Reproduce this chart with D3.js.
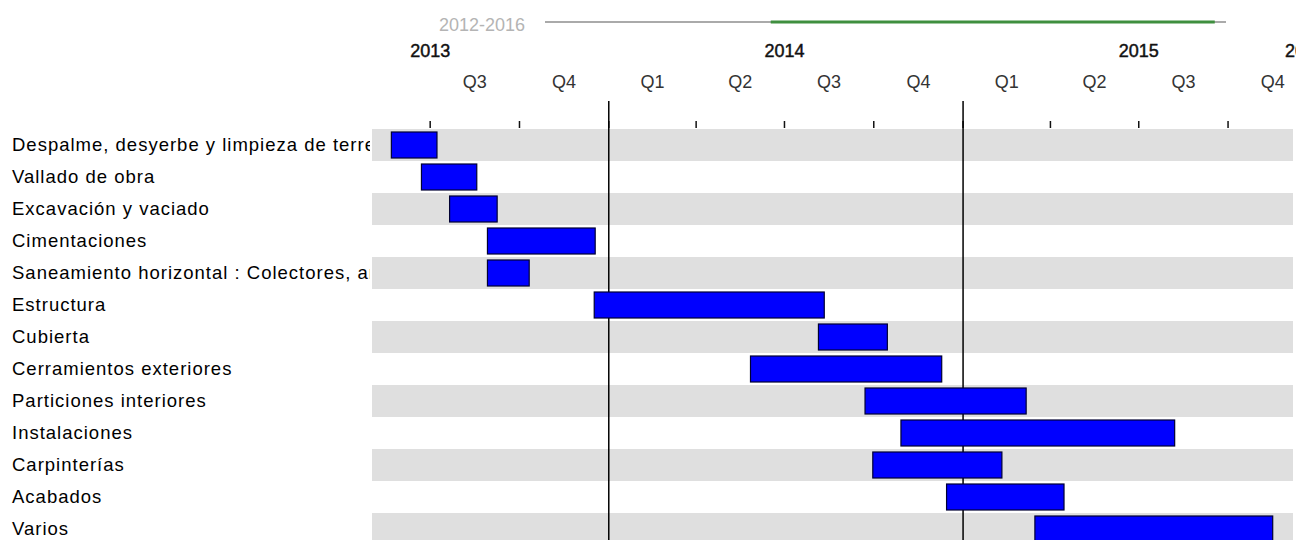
<!DOCTYPE html>
<html>
<head>
  <meta charset="utf-8"/>
  <title>Gantt</title>
  <script src="https://cdn.jsdelivr.net/npm/d3@7"></script>
<style>
body { margin: 0; background: #fff; }
svg text { font-family: "Liberation Sans", Arial, sans-serif; }
.label { font-size: 18.5px; letter-spacing: 1px; fill: #000; }
.year { font-size: 18px; fill: #111; stroke: #111; stroke-width: 0.45px; }
.quarter { font-size: 18px; fill: #333; }
.range { font-size: 18px; fill: #b4b4b4; }
.bar { fill: #0000ff; stroke: #000033; stroke-width: 1.2; }
</style>
</head>
<body>
  <svg id="chart"></svg>

  <script>
    // tasks and their start / end dates
    var tasks = [
      "Despalme, desyerbe y limpieza de terreno",
      "Vallado de obra",
      "Excavación y vaciado",
      "Cimentaciones",
      "Saneamiento horizontal : Colectores, arquetas",
      "Estructura",
      "Cubierta",
      "Cerramientos exteriores",
      "Particiones interiores",
      "Instalaciones",
      "Carpinterías",
      "Acabados",
      "Varios"
    ];
    var starts = [
      "2013-05-22", "2013-06-22", "2013-07-21", "2013-08-29", "2013-08-29",
      "2013-12-17", "2014-08-05", "2014-05-27", "2014-09-22", "2014-10-29",
      "2014-09-30", "2014-12-15", "2015-03-16"
    ];
    var ends = [
      "2013-07-08", "2013-08-18", "2013-09-08", "2013-12-18", "2013-10-11",
      "2014-08-11", "2014-10-15", "2014-12-10", "2015-03-07", "2015-08-07",
      "2015-02-10", "2015-04-15", "2015-11-16"
    ];
    var years = ["2013", "2014", "2015", "2016"];
    var quarterNames = ["Q1", "Q2", "Q3", "Q4"];
    var rangeLabel = "2012-2016";
    var overviewDomain = ["2012-01-01", "2016-01-01"];
    var viewDomain = ["2013-04-30", "2015-12-10"];

    var width = 1296, height = 540,
        labelWidth = 370, rowTop = 129, rowHeight = 32;

    var parse = d3.utcParse("%Y-%m-%d");

    var x = d3.scaleUtc()
        .domain(viewDomain.map(parse))
        .range([labelWidth, width]);

    var xo = d3.scaleUtc()
        .domain(overviewDomain.map(parse))
        .range([545, 1225]);

    var y = d3.scaleBand()
        .domain(tasks)
        .range([rowTop, rowTop + rowHeight * tasks.length]);

    var svg = d3.select("#chart")
        .attr("width", width)
        .attr("height", height);

    svg.append("clipPath").attr("id", "labelclip")
      .append("rect").attr("x", 0).attr("y", 0).attr("width", labelWidth).attr("height", height);
    svg.append("clipPath").attr("id", "plotclip")
      .append("rect").attr("x", labelWidth).attr("y", 0).attr("width", width - labelWidth).attr("height", height);

    // overview strip
    svg.append("text").attr("class", "range")
        .attr("x", 525).attr("y", 31).attr("text-anchor", "end")
        .text(rangeLabel);
    svg.append("line")
        .attr("x1", xo.range()[0]).attr("x2", xo.range()[1] + 1)
        .attr("y1", 22).attr("y2", 22)
        .attr("stroke", "#aaaaaa").attr("stroke-width", 2);
    svg.append("line")
        .attr("x1", xo(x.domain()[0])).attr("x2", xo(x.domain()[1]))
        .attr("y1", 22).attr("y2", 22)
        .attr("stroke", "#3f8f3f").attr("stroke-width", 3);

    // striped rows
    svg.append("g").selectAll("rect")
        .data(tasks.filter(function(d, i) { return i % 2 === 0; }))
        .enter().append("rect")
        .attr("x", labelWidth + 2)
        .attr("y", function(d) { return y(d); })
        .attr("width", width - 3 - labelWidth - 2)
        .attr("height", y.bandwidth())
        .attr("fill", "#dfdfdf");

    var plot = svg.append("g").attr("clip-path", "url(#plotclip)");

    // year labels at mid-year (the last one sticks to the right edge)
    var yearStarts = years.map(function(d) { return d3.utcParse("%Y")(d); });
    plot.selectAll(".year")
        .data(years)
        .enter().append("text")
        .attr("class", "year")
        .attr("x", function(d, i) {
          var mid = x(d3.utcMonth.offset(yearStarts[i], 6));
          return mid > width ? width - 11 : mid;
        })
        .attr("text-anchor", function(d, i) {
          return x(d3.utcMonth.offset(yearStarts[i], 6)) > width ? "start" : "middle";
        })
        .attr("y", 57)
        .text(function(d) { return d; });

    // quarter labels at mid-quarter
    var qStarts = d3.utcMonth.every(3).range(x.domain()[0], x.domain()[1]);
    plot.selectAll(".quarter")
        .data(qStarts)
        .enter().append("text")
        .attr("class", "quarter")
        .attr("x", function(d) { return x(new Date((+d + +d3.utcMonth.offset(d, 3)) / 2)); })
        .attr("y", 88)
        .attr("text-anchor", "middle")
        .text(function(d) { return quarterNames[Math.floor(d.getUTCMonth() / 3)]; });

    // small quarter ticks
    plot.selectAll(".qtick")
        .data(qStarts)
        .enter().append("line")
        .attr("x1", function(d) { return x(d); })
        .attr("x2", function(d) { return x(d); })
        .attr("y1", 121).attr("y2", 128)
        .attr("stroke", "#111").attr("stroke-width", 1.5);

    // year boundary lines
    var yearLines = d3.utcYear.range(x.domain()[0], x.domain()[1]);
    plot.selectAll(".yline")
        .data(yearLines)
        .enter().append("line")
        .attr("x1", function(d) { return x(d); })
        .attr("x2", function(d) { return x(d); })
        .attr("y1", 101).attr("y2", height)
        .attr("stroke", "#000").attr("stroke-width", 1.5);

    // task bars
    plot.selectAll(".bar")
        .data(tasks)
        .enter().append("rect")
        .attr("class", "bar")
        .attr("x", function(d, i) { return x(parse(starts[i])); })
        .attr("y", function(d) { return y(d) + 3; })
        .attr("width", function(d, i) { return x(parse(ends[i])) - x(parse(starts[i])); })
        .attr("height", y.bandwidth() - 6);

    // task labels
    svg.append("g").attr("clip-path", "url(#labelclip)")
      .selectAll("text")
        .data(tasks)
        .enter().append("text")
        .attr("class", "label")
        .attr("x", 12)
        .attr("y", function(d) { return y(d) + y.bandwidth() / 2; })
        .attr("dy", ".35em")
        .text(function(d) { return d; });
  </script>
</body>
</html>
